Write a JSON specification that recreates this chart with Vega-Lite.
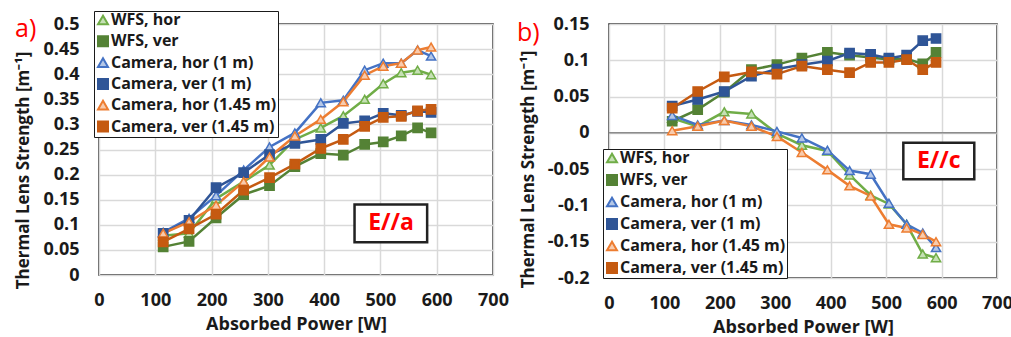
{
  "$schema": "https://vega.github.io/schema/vega-lite/v6.json",
  "padding": {"left": 13, "top": 9, "right": 5, "bottom": 2},
  "bounds": "flush",
  "spacing": 116,
  "config": {
    "font": "Open Sans",
    "view": {"stroke": "#1f1f1f", "strokeWidth": 1.5},
    "axis": {"labelFont": "Open Sans", "labelFontSize": 18, "labelFontWeight": "bold", "labelColor": "#1a1a1a", "titleFont": "Open Sans", "titleFontSize": 17, "titleFontWeight": "bold", "titleColor": "#1a1a1a", "ticks": false, "domain": false, "grid": true, "gridColor": "#d9d9d9", "gridWidth": 1.5, "labelFlush": false, "labelOverlap": false, "labelBound": false},
    "axisX": {"labelPadding": 16, "titlePadding": 6, "titleFontSize": 18},
    "axisY": {"labelPadding": 20},
    "legend": {"orient": "none", "fillColor": "white", "strokeColor": "#1a1a1a", "padding": 1, "labelFont": "Open Sans", "labelFontSize": 16, "labelFontWeight": "bold", "labelColor": "#1a1a1a", "symbolSize": 100, "symbolStrokeWidth": 2, "rowPadding": 3.5, "labelOffset": 0, "labelLimit": 400, "title": null}
  },
  "resolve": {"scale": {"x": "independent", "y": "independent", "stroke": "independent", "fill": "independent", "shape": "independent"}, "legend": {"stroke": "independent", "fill": "independent", "shape": "independent"}},
  "datasets": {
    "a": [
      {"s": "WFS, hor", "x": 114, "y": 0.078}, {"s": "WFS, hor", "x": 160, "y": 0.083}, {"s": "WFS, hor", "x": 208, "y": 0.152}, {"s": "WFS, hor", "x": 257, "y": 0.186}, {"s": "WFS, hor", "x": 303, "y": 0.219}, {"s": "WFS, hor", "x": 348, "y": 0.27}, {"s": "WFS, hor", "x": 394, "y": 0.293}, {"s": "WFS, hor", "x": 434, "y": 0.317}, {"s": "WFS, hor", "x": 472, "y": 0.35}, {"s": "WFS, hor", "x": 505, "y": 0.381}, {"s": "WFS, hor", "x": 537, "y": 0.403}, {"s": "WFS, hor", "x": 566, "y": 0.408}, {"s": "WFS, hor", "x": 590, "y": 0.399},
      {"s": "WFS, ver", "x": 114, "y": 0.056}, {"s": "WFS, ver", "x": 160, "y": 0.067}, {"s": "WFS, ver", "x": 208, "y": 0.114}, {"s": "WFS, ver", "x": 257, "y": 0.16}, {"s": "WFS, ver", "x": 303, "y": 0.178}, {"s": "WFS, ver", "x": 348, "y": 0.216}, {"s": "WFS, ver", "x": 394, "y": 0.242}, {"s": "WFS, ver", "x": 434, "y": 0.239}, {"s": "WFS, ver", "x": 472, "y": 0.26}, {"s": "WFS, ver", "x": 505, "y": 0.265}, {"s": "WFS, ver", "x": 537, "y": 0.277}, {"s": "WFS, ver", "x": 566, "y": 0.293}, {"s": "WFS, ver", "x": 590, "y": 0.283},
      {"s": "Camera, hor (1 m)", "x": 114, "y": 0.085}, {"s": "Camera, hor (1 m)", "x": 160, "y": 0.113}, {"s": "Camera, hor (1 m)", "x": 208, "y": 0.158}, {"s": "Camera, hor (1 m)", "x": 257, "y": 0.209}, {"s": "Camera, hor (1 m)", "x": 303, "y": 0.255}, {"s": "Camera, hor (1 m)", "x": 348, "y": 0.283}, {"s": "Camera, hor (1 m)", "x": 394, "y": 0.343}, {"s": "Camera, hor (1 m)", "x": 434, "y": 0.348}, {"s": "Camera, hor (1 m)", "x": 472, "y": 0.408}, {"s": "Camera, hor (1 m)", "x": 505, "y": 0.422}, {"s": "Camera, hor (1 m)", "x": 537, "y": 0.422}, {"s": "Camera, hor (1 m)", "x": 566, "y": 0.448}, {"s": "Camera, hor (1 m)", "x": 590, "y": 0.436},
      {"s": "Camera, ver (1 m)", "x": 114, "y": 0.083}, {"s": "Camera, ver (1 m)", "x": 160, "y": 0.109}, {"s": "Camera, ver (1 m)", "x": 208, "y": 0.174}, {"s": "Camera, ver (1 m)", "x": 257, "y": 0.204}, {"s": "Camera, ver (1 m)", "x": 303, "y": 0.24}, {"s": "Camera, ver (1 m)", "x": 348, "y": 0.262}, {"s": "Camera, ver (1 m)", "x": 394, "y": 0.27}, {"s": "Camera, ver (1 m)", "x": 434, "y": 0.302}, {"s": "Camera, ver (1 m)", "x": 472, "y": 0.307}, {"s": "Camera, ver (1 m)", "x": 505, "y": 0.322}, {"s": "Camera, ver (1 m)", "x": 537, "y": 0.318}, {"s": "Camera, ver (1 m)", "x": 566, "y": 0.326}, {"s": "Camera, ver (1 m)", "x": 590, "y": 0.324},
      {"s": "Camera, hor (1.45 m)", "x": 114, "y": 0.083}, {"s": "Camera, hor (1.45 m)", "x": 160, "y": 0.106}, {"s": "Camera, hor (1.45 m)", "x": 208, "y": 0.139}, {"s": "Camera, hor (1.45 m)", "x": 257, "y": 0.186}, {"s": "Camera, hor (1.45 m)", "x": 303, "y": 0.235}, {"s": "Camera, hor (1.45 m)", "x": 348, "y": 0.277}, {"s": "Camera, hor (1.45 m)", "x": 394, "y": 0.31}, {"s": "Camera, hor (1.45 m)", "x": 434, "y": 0.345}, {"s": "Camera, hor (1.45 m)", "x": 472, "y": 0.398}, {"s": "Camera, hor (1.45 m)", "x": 505, "y": 0.416}, {"s": "Camera, hor (1.45 m)", "x": 537, "y": 0.422}, {"s": "Camera, hor (1.45 m)", "x": 566, "y": 0.448}, {"s": "Camera, hor (1.45 m)", "x": 590, "y": 0.454},
      {"s": "Camera, ver (1.45 m)", "x": 114, "y": 0.066}, {"s": "Camera, ver (1.45 m)", "x": 160, "y": 0.092}, {"s": "Camera, ver (1.45 m)", "x": 208, "y": 0.121}, {"s": "Camera, ver (1.45 m)", "x": 257, "y": 0.169}, {"s": "Camera, ver (1.45 m)", "x": 303, "y": 0.194}, {"s": "Camera, ver (1.45 m)", "x": 348, "y": 0.221}, {"s": "Camera, ver (1.45 m)", "x": 394, "y": 0.252}, {"s": "Camera, ver (1.45 m)", "x": 434, "y": 0.27}, {"s": "Camera, ver (1.45 m)", "x": 472, "y": 0.296}, {"s": "Camera, ver (1.45 m)", "x": 505, "y": 0.314}, {"s": "Camera, ver (1.45 m)", "x": 537, "y": 0.316}, {"s": "Camera, ver (1.45 m)", "x": 566, "y": 0.327}, {"s": "Camera, ver (1.45 m)", "x": 590, "y": 0.33}
    ],
    "b": [
      {"s": "WFS, hor", "x": 114, "y": 0.02}, {"s": "WFS, hor", "x": 160, "y": 0.009}, {"s": "WFS, hor", "x": 208, "y": 0.029}, {"s": "WFS, hor", "x": 257, "y": 0.026}, {"s": "WFS, hor", "x": 303, "y": -0.001}, {"s": "WFS, hor", "x": 348, "y": -0.017}, {"s": "WFS, hor", "x": 394, "y": -0.025}, {"s": "WFS, hor", "x": 434, "y": -0.058}, {"s": "WFS, hor", "x": 472, "y": -0.086}, {"s": "WFS, hor", "x": 505, "y": -0.098}, {"s": "WFS, hor", "x": 537, "y": -0.126}, {"s": "WFS, hor", "x": 566, "y": -0.167}, {"s": "WFS, hor", "x": 590, "y": -0.172},
      {"s": "WFS, ver", "x": 114, "y": 0.016}, {"s": "WFS, ver", "x": 160, "y": 0.032}, {"s": "WFS, ver", "x": 208, "y": 0.056}, {"s": "WFS, ver", "x": 257, "y": 0.087}, {"s": "WFS, ver", "x": 303, "y": 0.094}, {"s": "WFS, ver", "x": 348, "y": 0.103}, {"s": "WFS, ver", "x": 394, "y": 0.111}, {"s": "WFS, ver", "x": 434, "y": 0.107}, {"s": "WFS, ver", "x": 472, "y": 0.104}, {"s": "WFS, ver", "x": 505, "y": 0.101}, {"s": "WFS, ver", "x": 537, "y": 0.102}, {"s": "WFS, ver", "x": 566, "y": 0.095}, {"s": "WFS, ver", "x": 590, "y": 0.111},
      {"s": "Camera, hor (1 m)", "x": 114, "y": 0.024}, {"s": "Camera, hor (1 m)", "x": 160, "y": 0.011}, {"s": "Camera, hor (1 m)", "x": 208, "y": 0.017}, {"s": "Camera, hor (1 m)", "x": 257, "y": 0.011}, {"s": "Camera, hor (1 m)", "x": 303, "y": 0.002}, {"s": "Camera, hor (1 m)", "x": 348, "y": -0.007}, {"s": "Camera, hor (1 m)", "x": 394, "y": -0.024}, {"s": "Camera, hor (1 m)", "x": 434, "y": -0.052}, {"s": "Camera, hor (1 m)", "x": 472, "y": -0.057}, {"s": "Camera, hor (1 m)", "x": 505, "y": -0.097}, {"s": "Camera, hor (1 m)", "x": 537, "y": -0.126}, {"s": "Camera, hor (1 m)", "x": 566, "y": -0.138}, {"s": "Camera, hor (1 m)", "x": 590, "y": -0.158},
      {"s": "Camera, ver (1 m)", "x": 114, "y": 0.037}, {"s": "Camera, ver (1 m)", "x": 160, "y": 0.046}, {"s": "Camera, ver (1 m)", "x": 208, "y": 0.057}, {"s": "Camera, ver (1 m)", "x": 257, "y": 0.078}, {"s": "Camera, ver (1 m)", "x": 303, "y": 0.088}, {"s": "Camera, ver (1 m)", "x": 348, "y": 0.094}, {"s": "Camera, ver (1 m)", "x": 394, "y": 0.099}, {"s": "Camera, ver (1 m)", "x": 434, "y": 0.11}, {"s": "Camera, ver (1 m)", "x": 472, "y": 0.108}, {"s": "Camera, ver (1 m)", "x": 505, "y": 0.103}, {"s": "Camera, ver (1 m)", "x": 537, "y": 0.107}, {"s": "Camera, ver (1 m)", "x": 566, "y": 0.127}, {"s": "Camera, ver (1 m)", "x": 590, "y": 0.13},
      {"s": "Camera, hor (1.45 m)", "x": 114, "y": 0.003}, {"s": "Camera, hor (1.45 m)", "x": 160, "y": 0.009}, {"s": "Camera, hor (1.45 m)", "x": 208, "y": 0.017}, {"s": "Camera, hor (1.45 m)", "x": 257, "y": 0.009}, {"s": "Camera, hor (1.45 m)", "x": 303, "y": -0.005}, {"s": "Camera, hor (1.45 m)", "x": 348, "y": -0.027}, {"s": "Camera, hor (1.45 m)", "x": 394, "y": -0.051}, {"s": "Camera, hor (1.45 m)", "x": 434, "y": -0.073}, {"s": "Camera, hor (1.45 m)", "x": 472, "y": -0.087}, {"s": "Camera, hor (1.45 m)", "x": 505, "y": -0.126}, {"s": "Camera, hor (1.45 m)", "x": 537, "y": -0.131}, {"s": "Camera, hor (1.45 m)", "x": 566, "y": -0.14}, {"s": "Camera, hor (1.45 m)", "x": 590, "y": -0.15},
      {"s": "Camera, ver (1.45 m)", "x": 114, "y": 0.034}, {"s": "Camera, ver (1.45 m)", "x": 160, "y": 0.057}, {"s": "Camera, ver (1.45 m)", "x": 208, "y": 0.077}, {"s": "Camera, ver (1.45 m)", "x": 257, "y": 0.084}, {"s": "Camera, ver (1.45 m)", "x": 303, "y": 0.081}, {"s": "Camera, ver (1.45 m)", "x": 348, "y": 0.092}, {"s": "Camera, ver (1.45 m)", "x": 394, "y": 0.087}, {"s": "Camera, ver (1.45 m)", "x": 434, "y": 0.083}, {"s": "Camera, ver (1.45 m)", "x": 472, "y": 0.097}, {"s": "Camera, ver (1.45 m)", "x": 505, "y": 0.097}, {"s": "Camera, ver (1.45 m)", "x": 537, "y": 0.101}, {"s": "Camera, ver (1.45 m)", "x": 566, "y": 0.087}, {"s": "Camera, ver (1.45 m)", "x": 590, "y": 0.097}
    ],
    "boxA": [{"x1": 454, "x2": 583, "y1": 0.1405, "y2": 0.065, "tx": 519, "ty": 0.1027, "label": "E//a"}],
    "boxB": [{"x1": 531, "x2": 659, "y1": -0.0136, "y2": -0.064, "tx": 595, "ty": -0.039, "label": "E//c"}],
    "zero": [{"y": 0}]
  },
  "hconcat": [
    {
      "width": 394, "height": 251,
      "title": {"text": "a)", "color": "#ff0000", "fontSize": 25, "font": "Open Sans", "fontWeight": "normal", "anchor": "start", "frame": "group", "dx": -84, "dy": 31, "offset": 0, "baseline": "top"},
      "data": {"name": "a"},
      "layer": [
        {
          "mark": {"type": "line", "strokeWidth": 2.5},
          "encoding": {
            "x": {"field": "x", "type": "quantitative", "title": "Absorbed Power [W]", "scale": {"domain": [0, 700], "nice": false}, "axis": {"values": [0, 100, 200, 300, 400, 500, 600, 700]}},
            "y": {"field": "y", "type": "quantitative", "title": "Thermal Lens Strength [m⁻¹]", "scale": {"domain": [0, 0.5], "nice": false}, "axis": {"values": [0, 0.05, 0.1, 0.15, 0.2, 0.25, 0.3, 0.35, 0.4, 0.45, 0.5], "labelExpr": "'' + datum.value", "titleX": -67, "titleY": 146}},
            "stroke": {"field": "s", "type": "nominal", "scale": {"domain": ["WFS, hor", "WFS, ver", "Camera, hor (1 m)", "Camera, ver (1 m)", "Camera, hor (1.45 m)", "Camera, ver (1.45 m)"], "range": ["#70AD47", "#548235", "#4472C4", "#2F5597", "#ED7D31", "#C55A11"]}, "legend": {"legendX": -5, "legendY": -13, "rowPadding": 3.3, "encode": {"symbols": {"update": {"shape": {"signal": "indexof(datum.value, 'hor') >= 0 ? 'M-1,0H1M0,-0.55L0.55,0.45H-0.55Z' : 'M-1,0H1M-0.42,-0.42H0.42V0.42H-0.42Z'"}}}}}}
          }
        },
        {
          "mark": {"type": "point", "filled": true, "strokeWidth": 1.5, "opacity": 1, "size": 85},
          "encoding": {
            "x": {"field": "x", "type": "quantitative", "title": "Absorbed Power [W]", "axis": {"values": [0, 100, 200, 300, 400, 500, 600, 700]}},
            "y": {"field": "y", "type": "quantitative", "title": "Thermal Lens Strength [m⁻¹]", "axis": {"values": [0, 0.05, 0.1, 0.15, 0.2, 0.25, 0.3, 0.35, 0.4, 0.45, 0.5], "labelExpr": "'' + datum.value", "titleX": -67, "titleY": 146}},
            "stroke": {"field": "s", "type": "nominal", "legend": {"legendX": -5, "legendY": -13, "rowPadding": 3.3, "encode": {"symbols": {"update": {"shape": {"signal": "indexof(datum.value, 'hor') >= 0 ? 'M-1,0H1M0,-0.55L0.55,0.45H-0.55Z' : 'M-1,0H1M-0.42,-0.42H0.42V0.42H-0.42Z'"}}}}}},
            "fill": {"field": "s", "type": "nominal", "scale": {"domain": ["WFS, hor", "WFS, ver", "Camera, hor (1 m)", "Camera, ver (1 m)", "Camera, hor (1.45 m)", "Camera, ver (1.45 m)"], "range": ["#C5E0B4", "#548235", "#B4C7E7", "#2F5597", "#F8CBAD", "#C55A11"]}},
            "shape": {"field": "s", "type": "nominal", "scale": {"domain": ["WFS, hor", "WFS, ver", "Camera, hor (1 m)", "Camera, ver (1 m)", "Camera, hor (1.45 m)", "Camera, ver (1.45 m)"], "range": ["triangle-up", "square", "triangle-up", "square", "triangle-up", "square"]}}
          }
        },
        {
          "data": {"name": "boxA"},
          "mark": {"type": "rect", "fill": "white", "stroke": "#222222", "strokeWidth": 2.5},
          "encoding": {"x": {"field": "x1", "type": "quantitative", "title": "Absorbed Power [W]", "axis": {"values": [0, 100, 200, 300, 400, 500, 600, 700]}}, "x2": {"field": "x2"}, "y": {"field": "y1", "type": "quantitative", "title": "Thermal Lens Strength [m⁻¹]", "axis": {"values": [0, 0.05, 0.1, 0.15, 0.2, 0.25, 0.3, 0.35, 0.4, 0.45, 0.5], "labelExpr": "'' + datum.value", "titleX": -67, "titleY": 146}}, "y2": {"field": "y2"}}
        },
        {
          "data": {"name": "boxA"},
          "mark": {"type": "text", "color": "#ff0000", "fontSize": 23, "fontWeight": "bold", "font": "Open Sans"},
          "encoding": {"x": {"field": "tx", "type": "quantitative", "title": "Absorbed Power [W]", "axis": {"values": [0, 100, 200, 300, 400, 500, 600, 700]}}, "y": {"field": "ty", "type": "quantitative", "title": "Thermal Lens Strength [m⁻¹]", "axis": {"values": [0, 0.05, 0.1, 0.15, 0.2, 0.25, 0.3, 0.35, 0.4, 0.45, 0.5], "labelExpr": "'' + datum.value", "titleX": -67, "titleY": 146}}, "text": {"field": "label"}}
        }
      ]
    },
    {
      "width": 388, "height": 254,
      "title": {"text": "b)", "color": "#ff0000", "fontSize": 25, "font": "Open Sans", "fontWeight": "normal", "anchor": "start", "frame": "group", "dx": -92, "dy": 31, "offset": 0, "baseline": "top"},
      "data": {"name": "b"},
      "layer": [
        {
          "data": {"name": "zero"},
          "mark": {"type": "rule", "color": "#8c8c8c", "strokeWidth": 1.5},
          "encoding": {"y": {"field": "y", "type": "quantitative", "title": "Thermal Lens Strength [m⁻¹]", "scale": {"domain": [-0.2, 0.15], "nice": false}, "axis": {"values": [-0.2, -0.15, -0.1, -0.05, 0, 0.05, 0.1, 0.15], "labelExpr": "'' + datum.value", "titleX": -72, "titleY": 145}}}
        },
        {
          "mark": {"type": "line", "strokeWidth": 2.5},
          "encoding": {
            "x": {"field": "x", "type": "quantitative", "title": "Absorbed Power [W]", "scale": {"domain": [0, 700], "nice": false}, "axis": {"values": [0, 100, 200, 300, 400, 500, 600, 700]}},
            "y": {"field": "y", "type": "quantitative", "title": "Thermal Lens Strength [m⁻¹]", "axis": {"values": [-0.2, -0.15, -0.1, -0.05, 0, 0.05, 0.1, 0.15], "labelExpr": "'' + datum.value", "titleX": -72, "titleY": 145}},
            "stroke": {"field": "s", "type": "nominal", "scale": {"domain": ["WFS, hor", "WFS, ver", "Camera, hor (1 m)", "Camera, ver (1 m)", "Camera, hor (1.45 m)", "Camera, ver (1.45 m)"], "range": ["#70AD47", "#548235", "#4472C4", "#2F5597", "#ED7D31", "#C55A11"]}, "legend": {"legendX": -6, "legendY": 125, "rowPadding": 4, "encode": {"symbols": {"update": {"shape": {"signal": "indexof(datum.value, 'hor') >= 0 ? 'M-1,0H1M0,-0.55L0.55,0.45H-0.55Z' : 'M-1,0H1M-0.42,-0.42H0.42V0.42H-0.42Z'"}}}}}}
          }
        },
        {
          "mark": {"type": "point", "filled": true, "strokeWidth": 1.5, "opacity": 1, "size": 85},
          "encoding": {
            "x": {"field": "x", "type": "quantitative", "title": "Absorbed Power [W]", "axis": {"values": [0, 100, 200, 300, 400, 500, 600, 700]}},
            "y": {"field": "y", "type": "quantitative", "title": "Thermal Lens Strength [m⁻¹]", "axis": {"values": [-0.2, -0.15, -0.1, -0.05, 0, 0.05, 0.1, 0.15], "labelExpr": "'' + datum.value", "titleX": -72, "titleY": 145}},
            "stroke": {"field": "s", "type": "nominal", "legend": {"legendX": -6, "legendY": 125, "rowPadding": 4, "encode": {"symbols": {"update": {"shape": {"signal": "indexof(datum.value, 'hor') >= 0 ? 'M-1,0H1M0,-0.55L0.55,0.45H-0.55Z' : 'M-1,0H1M-0.42,-0.42H0.42V0.42H-0.42Z'"}}}}}},
            "fill": {"field": "s", "type": "nominal", "scale": {"domain": ["WFS, hor", "WFS, ver", "Camera, hor (1 m)", "Camera, ver (1 m)", "Camera, hor (1.45 m)", "Camera, ver (1.45 m)"], "range": ["#C5E0B4", "#548235", "#B4C7E7", "#2F5597", "#F8CBAD", "#C55A11"]}},
            "shape": {"field": "s", "type": "nominal", "scale": {"domain": ["WFS, hor", "WFS, ver", "Camera, hor (1 m)", "Camera, ver (1 m)", "Camera, hor (1.45 m)", "Camera, ver (1.45 m)"], "range": ["triangle-up", "square", "triangle-up", "square", "triangle-up", "square"]}}
          }
        },
        {
          "data": {"name": "boxB"},
          "mark": {"type": "rect", "fill": "white", "stroke": "#222222", "strokeWidth": 2.5},
          "encoding": {"x": {"field": "x1", "type": "quantitative", "title": "Absorbed Power [W]", "axis": {"values": [0, 100, 200, 300, 400, 500, 600, 700]}}, "x2": {"field": "x2"}, "y": {"field": "y1", "type": "quantitative", "title": "Thermal Lens Strength [m⁻¹]", "axis": {"values": [-0.2, -0.15, -0.1, -0.05, 0, 0.05, 0.1, 0.15], "labelExpr": "'' + datum.value", "titleX": -72, "titleY": 145}}, "y2": {"field": "y2"}}
        },
        {
          "data": {"name": "boxB"},
          "mark": {"type": "text", "color": "#ff0000", "fontSize": 23, "fontWeight": "bold", "font": "Open Sans"},
          "encoding": {"x": {"field": "tx", "type": "quantitative", "title": "Absorbed Power [W]", "axis": {"values": [0, 100, 200, 300, 400, 500, 600, 700]}}, "y": {"field": "ty", "type": "quantitative", "title": "Thermal Lens Strength [m⁻¹]", "axis": {"values": [-0.2, -0.15, -0.1, -0.05, 0, 0.05, 0.1, 0.15], "labelExpr": "'' + datum.value", "titleX": -72, "titleY": 145}}, "text": {"field": "label"}}
        }
      ]
    }
  ]
}
